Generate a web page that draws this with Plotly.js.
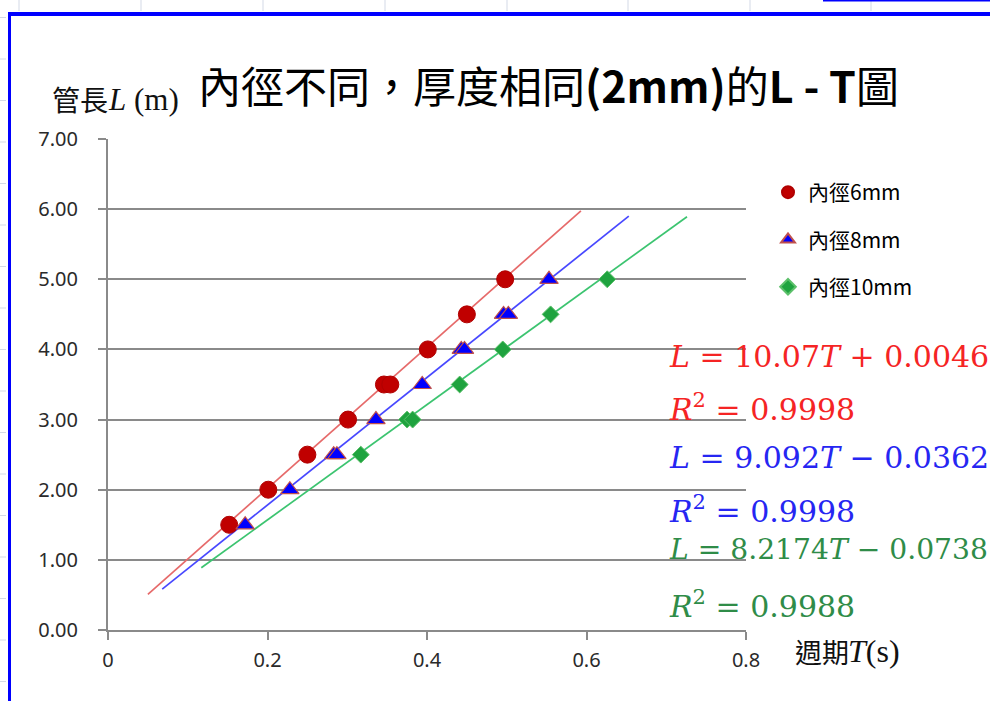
<!DOCTYPE html>
<html>
<head>
<meta charset="utf-8">
<script src="https://cdn.plot.ly/plotly-3.0.1.min.js"></script>
<style>html,body{margin:0;padding:0;background:#fff;}#chart{width:990px;height:701px;}</style>
</head>
<body>
<div id="chart"></div>
<script>
// ---- data ----
const seriesNames = ['內徑6mm', '內徑8mm', '內徑10mm'];
const T6  = [0.152, 0.201, 0.250, 0.301, 0.346, 0.354, 0.401, 0.450, 0.498];
const L6  = [1.5, 2.0, 2.5, 3.0, 3.5, 3.5, 4.0, 4.5, 5.0];
const T8  = [0.172, 0.228, 0.283, 0.287, 0.336, 0.394, 0.443, 0.447, 0.496, 0.502, 0.553];
const L8  = [1.5, 2.0, 2.5, 2.5, 3.0, 3.5, 4.0, 4.0, 4.5, 4.5, 5.0];
const T10 = [0.317, 0.375, 0.382, 0.441, 0.495, 0.555, 0.626];
const L10 = [2.5, 3.0, 3.0, 3.5, 4.0, 4.5, 5.0];
// trendlines (Excel linear fit, drawn over the forecast range)
const slopes     = [10.07, 9.092, 8.2174];
const intercepts = [0.0046, -0.0362, -0.0738];
const trendStart = [0.050, 0.068, 0.117];
const trendEnd   = [0.593, 0.653, 0.726];
const eqLabels = ['<i>L</i> = 10.07<i>T</i> + 0.0046', '<i>L</i> = 9.092<i>T</i> − 0.0362', '<i>L</i> = 8.2174<i>T</i> − 0.0738'];
const r2Labels = ['<i>R</i><sup>2</sup> = 0.9998', '<i>R</i><sup>2</sup> = 0.9998', '<i>R</i><sup>2</sup> = 0.9988'];
const xTickVals = [0, 0.2, 0.4, 0.6, 0.8];
const xTickText = ['0', '0.2', '0.4', '0.6', '0.8'];

// ---- styling ----
const W = 990, H = 701;
const M = {l: 108, r: 244, t: 139, b: 71};
const PW = W - M.l - M.r, PH = H - M.t - M.b;
const px = x => (x - M.l) / PW;
const py = y => (H - M.b - y) / PH;

const markerStyles = [
  {symbol: 'circle', size: 17, color: '#c00000', line: {color: '#b00000', width: 1}},
  {symbol: 'triangle-up', size: 16, color: '#0000ff', line: {color: '#c0504d', width: 1.2}},
  {symbol: 'diamond', size: 13, color: '#1fa33f', line: {color: '#5cc06a', width: 1}}
];
const lineColors = ['#e66a6a', '#4848ff', '#3cc470'];
const textColors = ['#f52424', '#2626f2', '#2f8c48'];
const eqSizes = [30, 30, 28.2];
const dataT = [T6, T8, T10], dataL = [L6, L8, L10];

const traces = [];
for (let i = 0; i < 3; i++) {
  const xs = [trendStart[i], trendEnd[i]];
  traces.push({
    x: xs, y: xs.map(t => slopes[i] * t + intercepts[i]),
    mode: 'lines', line: {color: lineColors[i], width: 1.7},
    showlegend: false, hoverinfo: 'skip', legendgroup: 'g' + i
  });
}
for (let i = 0; i < 3; i++) {
  traces.push({
    x: dataT[i], y: dataL[i], mode: 'markers', name: seriesNames[i],
    marker: markerStyles[i], legendgroup: 'g' + i
  });
}

const annotations = [];
const eqY = [[356, 408], [457, 509], [549, 604]];
for (let i = 0; i < 3; i++) {
  annotations.push({xref: 'paper', yref: 'paper', x: px(667), y: py(eqY[i][0]), xanchor: 'left', yanchor: 'middle',
    text: eqLabels[i], showarrow: false, font: {family: 'DejaVu Serif', size: eqSizes[i], color: textColors[i]}});
  annotations.push({xref: 'paper', yref: 'paper', x: px(667), y: py(eqY[i][1]), xanchor: 'left', yanchor: 'middle',
    text: r2Labels[i], showarrow: false, font: {family: 'DejaVu Serif', size: 30, color: textColors[i]}});
}
// axis titles
annotations.push({xref: 'paper', yref: 'paper', x: px(50), y: py(99), xanchor: 'left', yanchor: 'middle',
  text: '管長', showarrow: false, font: {family: 'Noto Sans CJK TC', size: 28, color: '#111'}});
annotations.push({xref: 'paper', yref: 'paper', x: px(106), y: py(99), xanchor: 'left', yanchor: 'middle',
  text: '<i>L</i> (m)', showarrow: false, font: {family: 'Liberation Serif', size: 31, color: '#111'}});
annotations.push({xref: 'paper', yref: 'paper', x: px(793), y: py(651), xanchor: 'left', yanchor: 'middle',
  text: '週期', showarrow: false, font: {family: 'Noto Sans CJK TC', size: 27, color: '#111'}});
annotations.push({xref: 'paper', yref: 'paper', x: px(846), y: py(651), xanchor: 'left', yanchor: 'middle',
  text: '<i>T</i>(s)', showarrow: false, font: {family: 'Liberation Serif', size: 32, color: '#111'}});

// spreadsheet frame decorations
const shapes = [];
const gridC = '#d3d9e6';
[19, 141, 263, 385, 507, 628, 750, 871].forEach(x => shapes.push({type: 'line', xref: 'paper', yref: 'paper',
  x0: px(x), x1: px(x), y0: py(0), y1: py(11), line: {color: gridC, width: 1}}));
for (let y = 17.5; y < H; y += 41.5) shapes.push({type: 'line', xref: 'paper', yref: 'paper',
  x0: px(0), x1: px(6), y0: py(y), y1: py(y), line: {color: gridC, width: 1}});
shapes.push({type: 'line', xref: 'paper', yref: 'paper', x0: px(8), x1: px(992), y0: py(14), y1: py(14), line: {color: '#0000ff', width: 4}});
shapes.push({type: 'line', xref: 'paper', yref: 'paper', x0: px(9.5), x1: px(9.5), y0: py(12), y1: py(705), line: {color: '#0000ff', width: 3}});
shapes.push({type: 'line', xref: 'paper', yref: 'paper', x0: px(823), x1: px(992), y0: py(0.5), y1: py(0.5), line: {color: '#0000ff', width: 2}});

const axisGray = '#8a8a8a';
const layout = {
  width: W, height: H, margin: M,
  paper_bgcolor: '#ffffff', plot_bgcolor: '#ffffff',
  title: {text: '內徑不同，厚度相同<b>(2mm)</b>的<b>L - T</b>圖', xref: 'container', yref: 'container',
    x: 198 / W, xanchor: 'left', y: 1 - 88 / H, yanchor: 'middle',
    font: {family: 'Noto Sans CJK TC', size: 43, color: '#000'}},
  xaxis: {range: [0, 0.8], tickvals: xTickVals, ticktext: xTickText, showgrid: false, zeroline: false,
    showline: true, linecolor: axisGray, linewidth: 2, ticks: 'outside', ticklen: 8, tickwidth: 2, tickcolor: axisGray,
    tickfont: {family: 'Noto Sans', size: 20, color: '#2a2a2a'}, ticklabelstandoff: 3},
  yaxis: {range: [0, 7], dtick: 1, tick0: 0, tickformat: '.2f', showgrid: true, gridcolor: axisGray, gridwidth: 2,
    zeroline: false, showline: true, linecolor: axisGray, linewidth: 2, ticks: 'outside', ticklen: 8, tickwidth: 2,
    tickcolor: axisGray, tickfont: {family: 'Noto Sans', size: 20, color: '#2a2a2a'}, ticklabelstandoff: 16},
  legend: {x: px(768), y: py(172), xanchor: 'left', yanchor: 'top', traceorder: 'grouped', tracegroupgap: 17,
    itemsizing: 'constant', bgcolor: 'rgba(0,0,0,0)', font: {family: 'Noto Sans CJK TC', size: 21, color: '#000'}},
  annotations: annotations, shapes: shapes, hovermode: false
};
Plotly.newPlot('chart', traces, layout, {displayModeBar: false, staticPlot: true});
</script>
</body>
</html>
